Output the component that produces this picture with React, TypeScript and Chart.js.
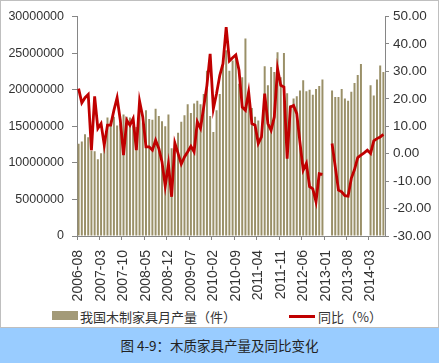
import React, { useEffect, useRef } from 'react';
import { Chart, registerables } from 'chart.js';

Chart.register(...registerables);

const MONTHS: string[] = [
  '2006-08', '2006-09', '2006-10', '2006-11', '2006-12',
  '2007-01', '2007-02', '2007-03', '2007-04', '2007-05', '2007-06', '2007-07', '2007-08', '2007-09', '2007-10', '2007-11', '2007-12',
  '2008-01', '2008-02', '2008-03', '2008-04', '2008-05', '2008-06', '2008-07', '2008-08', '2008-09', '2008-10', '2008-11', '2008-12',
  '2009-01', '2009-02', '2009-03', '2009-04', '2009-05', '2009-06', '2009-07', '2009-08', '2009-09', '2009-10', '2009-11', '2009-12',
  '2010-01', '2010-02', '2010-03', '2010-04', '2010-05', '2010-06', '2010-07', '2010-08', '2010-09', '2010-10', '2010-11', '2010-12',
  '2011-01', '2011-02', '2011-03', '2011-04', '2011-05', '2011-06', '2011-07', '2011-08', '2011-09', '2011-10', '2011-11', '2011-12',
  '2012-01', '2012-02', '2012-03', '2012-04', '2012-05', '2012-06', '2012-07', '2012-08', '2012-09', '2012-10', '2012-11', '2012-12',
  '2013-01', '2013-02', '2013-03', '2013-04', '2013-05', '2013-06', '2013-07', '2013-08', '2013-09', '2013-10', '2013-11', '2013-12',
  '2014-01', '2014-02', '2014-03', '2014-04', '2014-05', '2014-06', '2014-07',
];

// 我国木制家具月产量（件）
const OUTPUT: (number | null)[] = [
  12600000, 12900000, 13900000, 13500000, 11700000,
  11600000, 10500000, 11300000, 12400000, 16200000, 15800000, 16300000, 15100000, 15300000, 16600000, 16300000, 16200000,
  15100000, 14900000, 17200000, 15500000, 17200000, 16000000, 15900000, 17400000, 16400000, 15700000, 15000000, 16600000,
  12000000, 12900000, 14100000, 15600000, 16500000, 18000000, 16800000, 18100000, 18500000, 18000000, 19400000, 22600000,
  16400000, 14200000, 17200000, 19400000, 23500000, 25400000, 22600000, 24000000, 24800000, 20800000, 21700000, 27000000,
  19700000, 17500000, 16300000, 15800000, 13600000, 23200000, 20600000, 23100000, 22400000, 25100000, 21700000, 25000000,
  19500000, 17900000, 18800000, 19100000, 19900000, 21300000, 19800000, 20000000, 19300000, 20100000, 20500000, 21400000,
  null, null, 19900000, 19000000, 19000000, 20100000, 18800000, 18500000, 19700000, 20900000, 22000000, 23500000,
  null, null, 20600000, 19200000, 21400000, 23300000, 22400000,
];

// 同比（%）
const YOY: (number | null)[] = [
  23.7, 18.5, 20.4, 21.6, 1.3,
  20.9, 9.2, 11.0, 3.1, 10.4, 10.4, 15.8, 20.4, 12.2, -0.5, 12.2, 10.4,
  12.8, 1.3, 19.2, 13.4, 2.5, 2.5, 1.3, 4.9, 1.9, -3.0, -11.8, -3.8,
  -15.7, 3.9, 0.1, -3.8, -1.2, 0.7, 2.7, 0.7, 11.6, 9.2, 17.0, 24.9,
  36.4, 16.4, 21.9, 28.5, 32.8, 46.1, 33.8, 35.0, 36.0, 30.4, 17.0, 15.8,
  22.5, 11.0, 10.4, 3.7, 6.1, 21.9, 11.0, 8.5, 13.4, 31.0, 24.9, 24.3,
  -1.8, 17.0, 17.6, 14.6, 4.0, -6.0, -3.5, -12.0, -12.8, -17.5, -7.3, -7.5,
  null, null, 3.7, -4.8, -13.3, -13.9, -15.3, -15.5, -9.0, -5.8, -1.4, -0.5,
  0.3, 1.3, 0.1, 4.7, 5.5, 6.1, 7.0,
];

const TICK_EVERY = 7;
const LEFT_MIN = 0;
const LEFT_MAX = 30000000;
const LEFT_STEP = 5000000;
const RIGHT_MIN = -30;
const RIGHT_MAX = 50;
const RIGHT_STEP = 10;

const BAR_LABEL = '我国木制家具月产量（件）';
const LINE_LABEL = '同比（%）';
const TITLE = '图 4-9：木质家具产量及同比变化';

const BAR_COLOR = '#9A9068';
const LINE_COLOR = '#C00000';
const AXIS_COLOR = '#868686';
const TEXT_COLOR = '#333333';
const CJK = '"Noto Sans CJK SC", "Noto Sans", sans-serif';

export default function App() {
  const canvasRef = useRef<HTMLCanvasElement>(null);

  useEffect(() => {
    const canvas = canvasRef.current;
    if (!canvas) return;
    const tickFont = { family: '"Liberation Sans", Arial, sans-serif', size: 12.5 };
    const chart = new Chart(canvas, {
      type: 'bar',
      data: {
        labels: MONTHS,
        datasets: [
          {
            type: 'line',
            label: LINE_LABEL,
            data: YOY,
            yAxisID: 'y1',
            borderColor: LINE_COLOR,
            backgroundColor: LINE_COLOR,
            borderWidth: 2.8,
            pointRadius: 0,
            tension: 0,
            spanGaps: false,
            order: 1,
          } as any,
          {
            type: 'bar',
            label: BAR_LABEL,
            data: OUTPUT,
            yAxisID: 'y',
            backgroundColor: BAR_COLOR,
            barPercentage: 0.62,
            categoryPercentage: 1,
            order: 2,
          } as any,
        ],
      },
      options: {
        animation: false,
        responsive: false,
        maintainAspectRatio: false,
        layout: { padding: { top: 15, left: 0, right: 0, bottom: 0 } },
        plugins: { legend: { display: false }, tooltip: { enabled: false } },
        scales: {
          x: {
            type: 'category',
            offset: true,
            grid: {
              offset: true,
              drawOnChartArea: false,
              drawTicks: true,
              tickLength: 4,
              color: (c: any) => (c.index % TICK_EVERY === 0 ? AXIS_COLOR : 'rgba(0,0,0,0)'),
            },
            border: { display: true, color: AXIS_COLOR, width: 1 },
            ticks: {
              autoSkip: false,
              maxRotation: 90,
              minRotation: 90,
              padding: 10,
              color: TEXT_COLOR,
              font: { family: '"Liberation Sans", Arial, sans-serif', size: 14 },
              callback: (_v: any, i: number) => (i % TICK_EVERY === 0 ? MONTHS[i] : ''),
            },
            afterFit: (s: any) => {
              s.height = 71;
            },
          },
          y: {
            position: 'left',
            min: LEFT_MIN,
            max: LEFT_MAX,
            grid: { drawOnChartArea: false, drawTicks: true, tickLength: 5, color: AXIS_COLOR },
            border: { display: true, color: AXIS_COLOR, width: 1 },
            ticks: {
              stepSize: LEFT_STEP,
              padding: 8,
              color: TEXT_COLOR,
              font: tickFont,
              callback: (v: any) => String(v),
            },
            afterFit: (s: any) => {
              s.width = 76;
            },
          },
          y1: {
            position: 'right',
            min: RIGHT_MIN,
            max: RIGHT_MAX,
            grid: { drawOnChartArea: false, drawTicks: true, tickLength: 4, color: AXIS_COLOR },
            border: { display: true, color: AXIS_COLOR, width: 1 },
            ticks: {
              stepSize: RIGHT_STEP,
              padding: 4,
              color: TEXT_COLOR,
              font: { family: '"Liberation Sans", Arial, sans-serif', size: 13.5 },
              callback: (v: any) => Number(v).toFixed(2),
            },
            afterFit: (s: any) => {
              s.width = 53;
            },
          },
        },
      } as any,
    });
    return () => chart.destroy();
  }, []);

  return (
    <div style={{ position: 'absolute', left: 0, top: 0, width: 439, height: 363, background: '#ffffff', overflow: 'hidden' }}>
      <div
        style={{
          position: 'absolute',
          left: 0,
          top: 0,
          width: 437,
          height: 326,
          border: '1px solid #BFBFBF',
          background: '#ffffff',
        }}
      >
        <canvas ref={canvasRef} width={437} height={306} style={{ position: 'absolute', left: 0, top: 0, width: 437, height: 306 }} />
        <div style={{ position: 'absolute', left: 51, top: 310, width: 26, height: 9, background: '#A39A78' }} />
        <div
          style={{
            position: 'absolute',
            left: 79,
            top: 306,
            height: 20,
            lineHeight: '20px',
            fontFamily: CJK,
            fontSize: 13,
            color: '#333',
            whiteSpace: 'nowrap',
          }}
        >
          {BAR_LABEL}
        </div>
        <div style={{ position: 'absolute', left: 288, top: 314, width: 26, height: 3, background: LINE_COLOR }} />
        <div
          style={{
            position: 'absolute',
            left: 317,
            top: 306,
            height: 20,
            lineHeight: '20px',
            fontFamily: CJK,
            fontSize: 13,
            color: '#333',
            whiteSpace: 'nowrap',
          }}
        >
          {LINE_LABEL}
        </div>
      </div>
      <div
        style={{
          position: 'absolute',
          left: 0,
          top: 328,
          width: 439,
          height: 35,
          background: '#99CCFF',
          textAlign: 'center',
          lineHeight: '35px',
          fontFamily: CJK,
          fontSize: 13.5,
          color: '#222',
          whiteSpace: 'nowrap',
        }}
      >
        {TITLE}
      </div>
    </div>
  );
}
